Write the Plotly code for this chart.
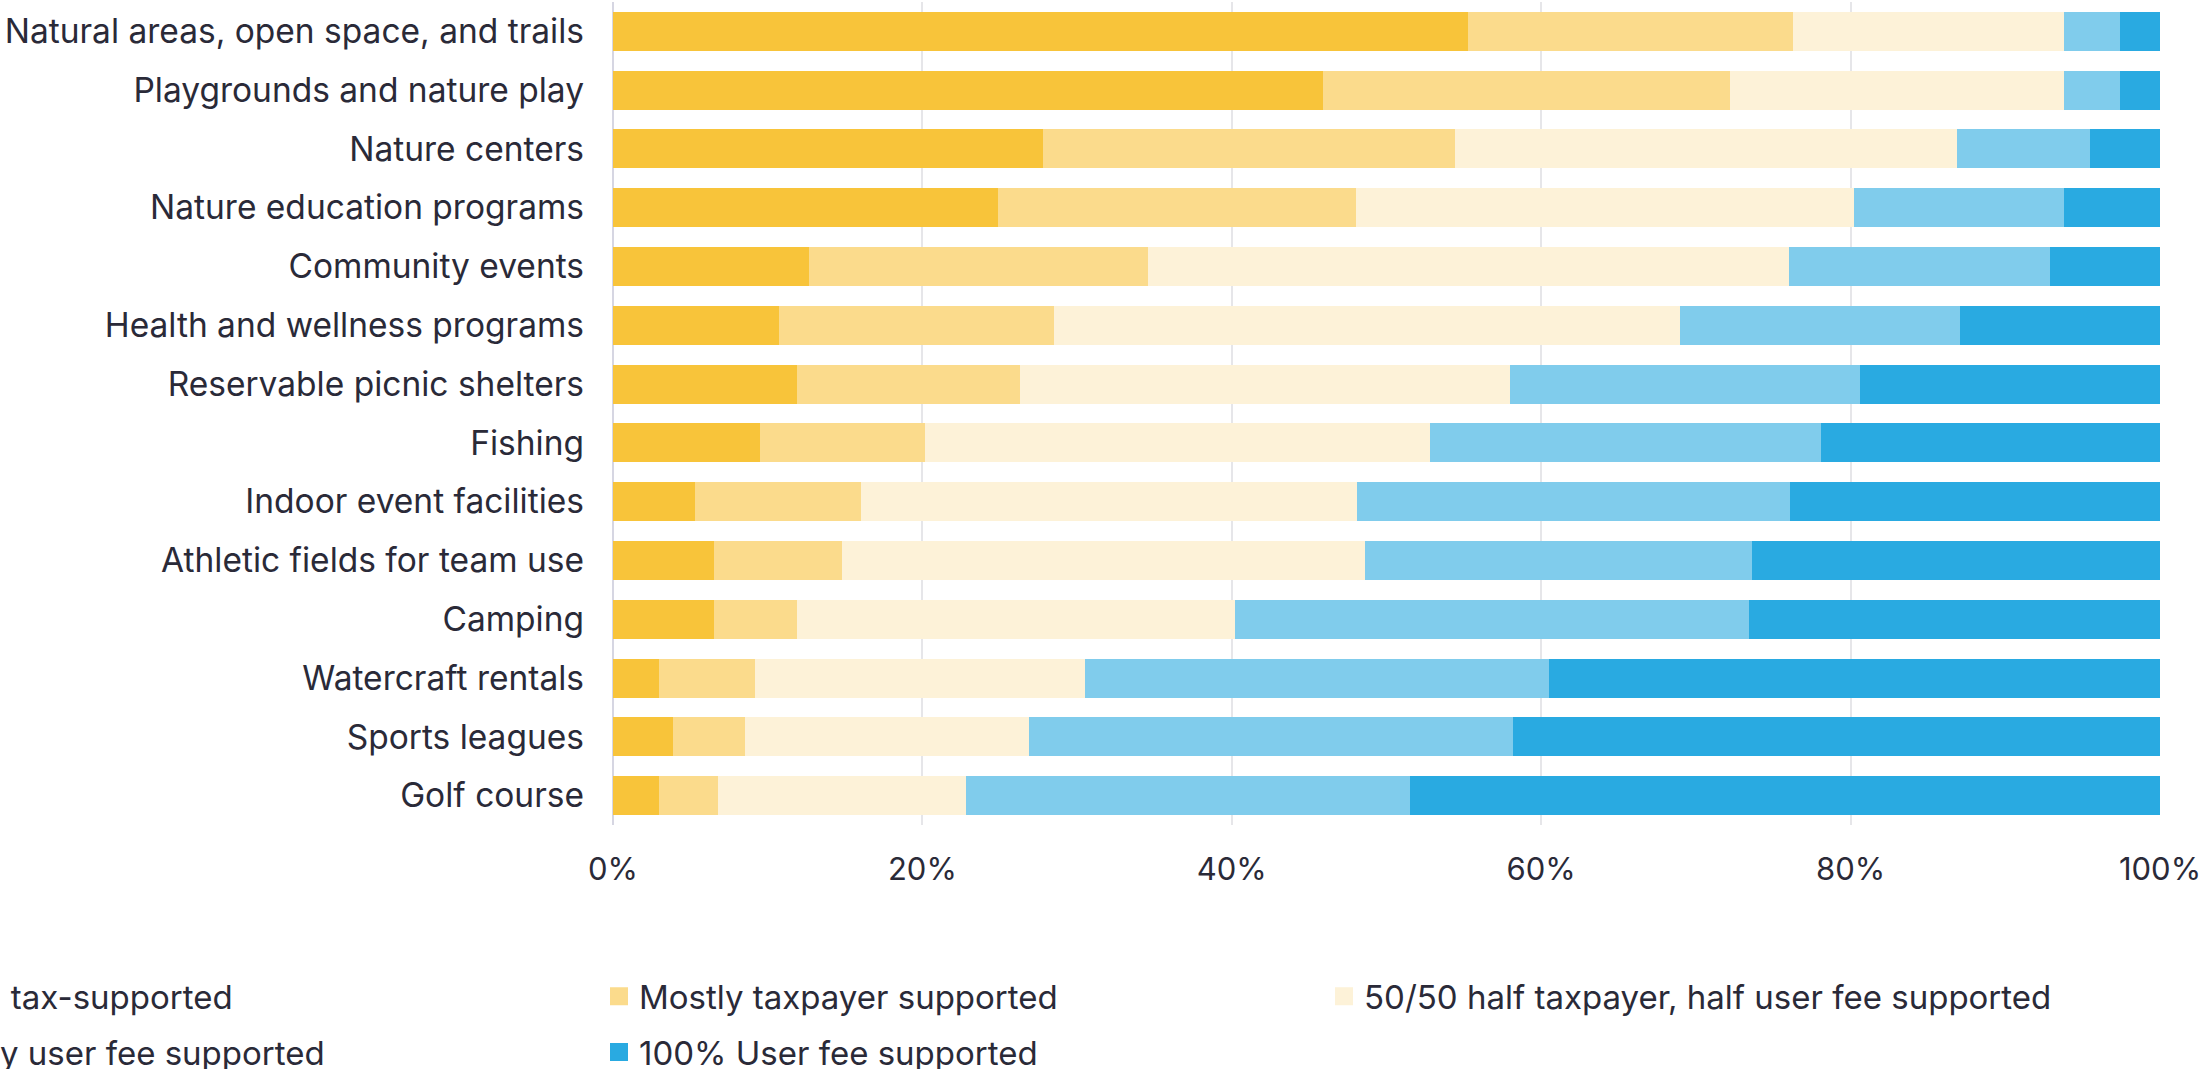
import plotly.graph_objects as go

# Facility / programme categories, top to bottom
categories = [
    "Natural areas, open space, and trails",
    "Playgrounds and nature play",
    "Nature centers",
    "Nature education programs",
    "Community events",
    "Health and wellness programs",
    "Reservable picnic shelters",
    "Fishing",
    "Indoor event facilities",
    "Athletic fields for team use",
    "Camping",
    "Watercraft rentals",
    "Sports leagues",
    "Golf course",
]

# Share of respondents (%) per funding preference
tax_100 = [55.3, 45.9, 27.8, 24.9, 12.7, 10.7, 11.9, 9.5, 5.3, 6.5, 6.5, 3.0, 3.9, 3.0]
mostly_tax = [21.0, 26.3, 26.6, 23.1, 21.9, 17.8, 14.4, 10.7, 10.7, 8.3, 5.4, 6.2, 4.6, 3.8]
half_half = [17.5, 21.6, 32.5, 32.2, 41.4, 40.5, 31.7, 32.6, 32.1, 33.8, 28.3, 21.3, 18.4, 16.0]
mostly_fee = [3.6, 3.6, 8.6, 13.6, 16.9, 18.1, 22.6, 25.3, 28.0, 25.0, 33.2, 30.0, 31.3, 28.7]
fee_100 = [2.6, 2.6, 4.5, 6.2, 7.1, 12.9, 19.4, 21.9, 23.9, 26.4, 26.6, 39.5, 41.8, 48.5]

series_names = [
    "100% tax-supported",
    "Mostly taxpayer supported",
    "50/50 half taxpayer, half user fee supported",
    "Mostly user fee supported",
    "100% User fee supported",
]
series_values = [tax_100, mostly_tax, half_half, mostly_fee, fee_100]
series_colors = ["#F8C43A", "#FBDB8C", "#FDF2D8", "#80CCEC", "#29AAE1"]
# which legend column each series sits in
legend_ids = ["legend", "legend2", "legend3", "legend", "legend2"]

FONT = "Inter"
TEXT = "#2a2a38"

fig = go.Figure()
for name, vals, color in zip(series_names, series_values, series_colors):
    fig.add_trace(go.Bar(
        y=categories, x=vals, orientation="h", name=name,
        marker=dict(color=color, line=dict(width=0)),
        showlegend=False, legendgroup=name,
        hovertemplate="%{y}: %{x}%<extra>" + name + "</extra>",
    ))

# legend entries with larger square swatches
for name, color, lid in zip(series_names, series_colors, legend_ids):
    fig.add_trace(go.Scatter(
        x=[None], y=[None], mode="markers", name=name, legendgroup=name,
        marker=dict(symbol="square", size=16, color=color, line=dict(color=color, width=2)),
        legend=lid, showlegend=True, hoverinfo="skip",
    ))

legend_common = dict(
    orientation="v", xanchor="left", yanchor="top", yref="paper", xref="paper",
    font=dict(family=FONT, size=33, color=TEXT), bgcolor="rgba(0,0,0,0)",
    tracegroupgap=10, itemsizing="trace", itemclick=False, itemdoubleclick=False,
)

fig.update_layout(
    width=2210, height=1069,
    margin=dict(l=613, r=50, t=2, b=244, autoexpand=False),
    paper_bgcolor="white", plot_bgcolor="white",
    barmode="stack", bargap=0.336,
    font=dict(family=FONT, color=TEXT),
    xaxis=dict(
        range=[0, 100], dtick=20, ticksuffix="%", showgrid=True,
        gridcolor="#e6e6e9", gridwidth=2, zeroline=True,
        zerolinecolor="#d6d6e2", zerolinewidth=2, showline=False,
        tickfont=dict(family=FONT, size=31, color=TEXT), ticklabelstandoff=23,
        fixedrange=True,
    ),
    yaxis=dict(
        categoryorder="array", categoryarray=categories, autorange="reversed",
        showgrid=False, zeroline=False, showline=False, ticks="",
        tickfont=dict(family=FONT, size=33.5, color=TEXT), ticklabelstandoff=28,
        fixedrange=True,
    ),
    legend=dict(legend_common, x=-0.4777, y=-0.174),
    legend2=dict(legend_common, x=-0.00905, y=-0.174),
    legend3=dict(legend_common, x=0.4596, y=-0.174),
)

fig.write_html("out.html", config={"displayModeBar": False})
